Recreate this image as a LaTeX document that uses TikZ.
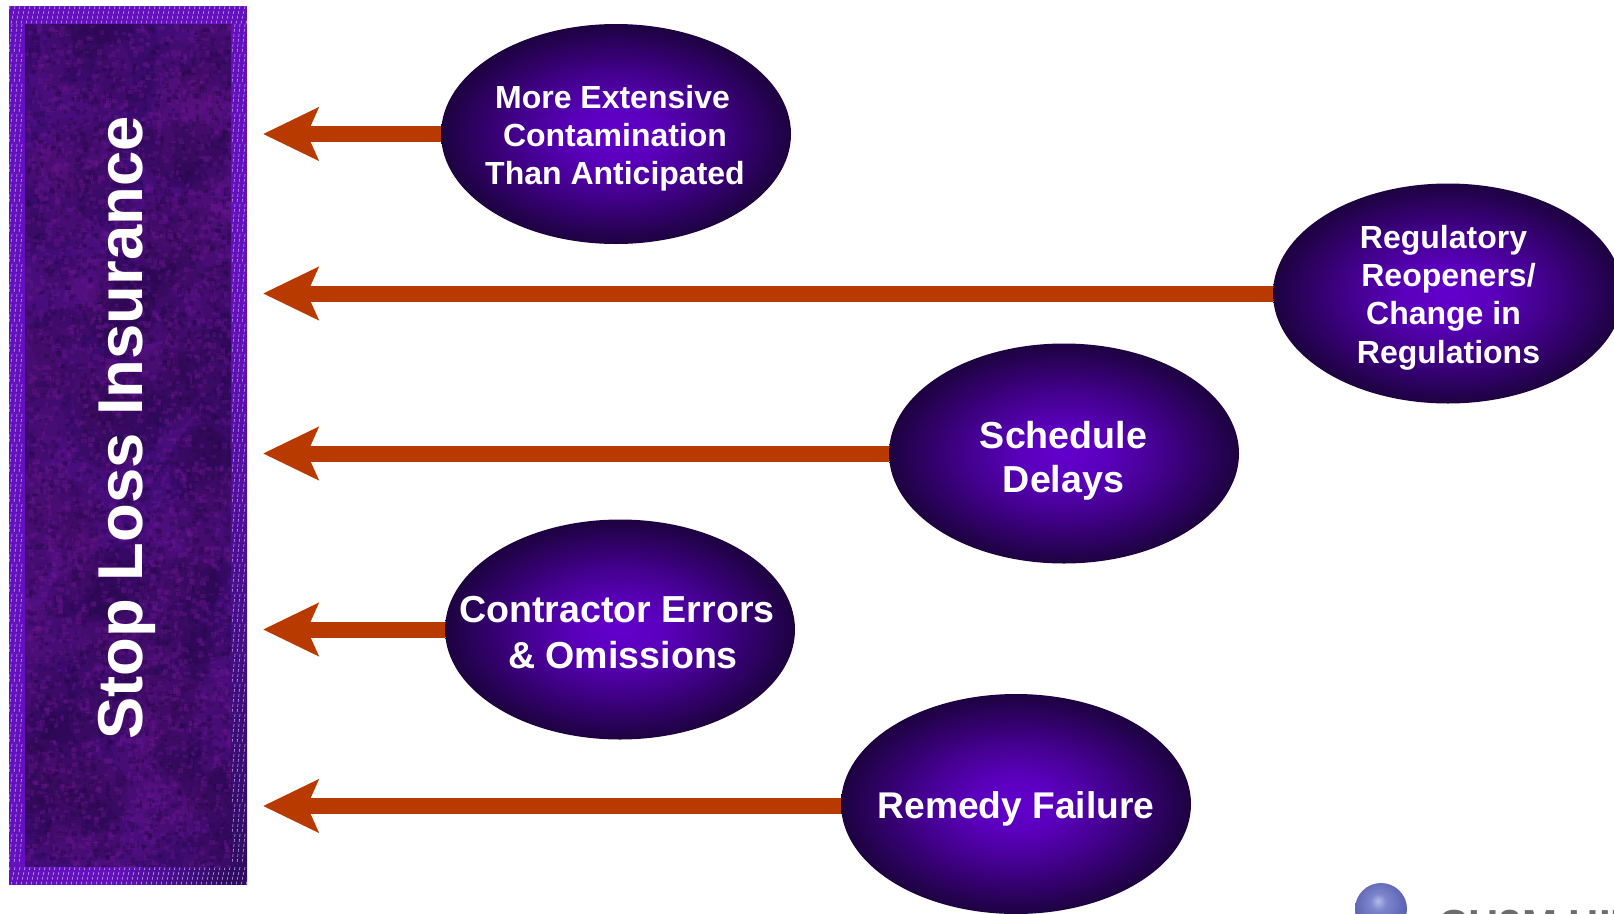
\documentclass[tikz,border=0pt]{standalone}
\usepackage{fontspec}
\setmainfont{Liberation Sans}
\usetikzlibrary{shapes.geometric,arrows.meta}
\definecolor{violetcore}{HTML}{6200CC}
\definecolor{violetedge}{HTML}{1D0240}
\definecolor{arrowred}{HTML}{B93A00}
\definecolor{framepurple}{HTML}{6410BE}
\definecolor{framedark}{HTML}{2E0C5E}
\definecolor{hatchpale}{HTML}{B9A0E6}
\definecolor{matpurple}{HTML}{400C76}
\definecolor{matdark}{HTML}{260848}
\definecolor{matlight}{HTML}{6C1690}
\definecolor{ballcore}{HTML}{B4BAE8}
\definecolor{ballmid}{HTML}{7D85CC}
\definecolor{ballrim}{HTML}{5C64B4}
\pgfdeclareradialshading{glow}{\pgfpoint{0bp}{0bp}}{color(0bp)=(violetcore);color(6bp)=(violetcore!90!violetedge);color(14bp)=(violetcore!55!violetedge);color(25bp)=(violetedge);color(50bp)=(violetedge)}
\pgfdeclareradialshading{sphere}{\pgfpoint{-3bp}{8bp}}{color(0bp)=(ballcore);color(8bp)=(ballmid);color(25bp)=(ballrim);color(50bp)=(ballrim)}
\tikzset{
  oval/.style={ellipse,shading=glow,minimum width=350pt,minimum height=220pt,inner sep=0pt,outer sep=0pt},
  ovaltext/.style={text=white,align=center,inner sep=0pt},
  small/.style={ovaltext,font=\fontsize{32}{38}\bfseries\selectfont},
  large/.style={ovaltext,font=\fontsize{37.6}{45.5}\bfseries\selectfont},
  pointer/.style={draw=arrowred,line width=16pt,shorten >=16pt,-{Stealth[length=55pt,width=52pt,inset=11pt]},arrowred},
  hatch/.style={hatchpale,opacity=.9,line width=.7pt,dash pattern=on 3pt off 2pt}
}
\begin{document}
\begin{tikzpicture}[x=1pt,y=-1pt]
\useasboundingbox (0,0) rectangle (1614,913);
\clip (0,0) rectangle (1614,913);
% frame and mat
\node[rectangle,fill=framepurple,minimum width=238pt,minimum height=879pt,inner sep=0pt,outer sep=0pt] (bar) at (128,445.5) {};
\begin{scope}
\clip (9,6) rectangle (247,884.5);
\shade[top color=framepurple,bottom color=framedark] (231,300) rectangle (248,886);
\shade[left color=framepurple,right color=framedark] (110,867) rectangle (231,886);
\foreach \i in {0,5,...,290}{
  \draw[hatch] (\i,6) -- (\i-4,24);
  \draw[hatch] (\i,867) -- (\i-4,885);
}
\foreach \i in {0,5,10}{
  \foreach \j in {24,54,...,860}{
    \draw[hatch] (12+\i,\j) -- (9+\i,\j+30);
    \draw[hatch] (235+\i,\j) -- (232+\i,\j+30);
  }
}
\end{scope}
\fill[matpurple] (25,24) rectangle (231,867);
\begin{scope}
\clip (25,24) rectangle (231,867);
\pgfmathsetseed{4711}
\foreach \k in {1,...,260}{
  \pgfmathsetmacro{\px}{15+216*rnd}
  \pgfmathsetmacro{\py}{14+853*rnd}
  \pgfmathsetmacro{\pw}{15+30*rnd}
  \pgfmathsetmacro{\ph}{15+30*rnd}
  \pgfmathtruncatemacro{\pick}{rnd<0.6 ? 1 : 0}
  \ifnum\pick=1\relax
    \fill[matdark,opacity=.2] (\px,\py) ellipse ({\pw} and {\ph});
  \else
    \fill[matlight,opacity=.16] (\px,\py) ellipse ({\pw} and {\ph});
  \fi
}
\foreach \k in {1,...,5200}{
  \pgfmathsetmacro{\px}{25+206*rnd}
  \pgfmathsetmacro{\py}{24+843*rnd}
  \pgfmathsetmacro{\pw}{2.5+3.5*rnd}
  \pgfmathsetmacro{\ph}{2.5+3.5*rnd}
  \pgfmathtruncatemacro{\pick}{rnd<0.5 ? 1 : 0}
  \ifnum\pick=1\relax
    \fill[matdark,opacity=.34] (\px,\py) rectangle (\px+\pw,\py+\ph);
  \else
    \fill[matlight,opacity=.34] (\px,\py) rectangle (\px+\pw,\py+\ph);
  \fi
}
\end{scope}
\node[rotate=90,anchor=base,text=white,inner sep=0pt,font=\fontsize{63.4}{70}\bfseries\selectfont] (title) at (142,428) {Stop Loss Insurance};
% ovals
\node[oval] (e1) at (616,134) {};
\node[oval] (e2) at (1448,293.5) {};
\node[oval] (e3) at (1064,453.5) {};
\node[oval] (e4) at (620,629.5) {};
\node[oval] (e5) at (1016,804) {};
\node[small] (t1) at (615,138) {More Extensive\hspace*{5pt}\\Contamination\\Than Anticipated};
\node[small] (t2) at (1448.5,298) {Regulatory\hspace*{10pt}\\Reopeners/\\Change in\hspace*{10pt}\hspace*{10pt}\\[1.5pt]Regulations};
\node[large] (t3) at (1063.5,461) {Schedule\\[-1.5pt]Delays};
\node[large] (t4) at (617,632.5) {Contractor Errors\\\hspace*{12pt}\&\ Omissions};
\node[large,font=\fontsize{37.2}{44}\bfseries\selectfont] (t5) at (1016,809) {Remedy Failure};
% arrows
\draw[pointer] (e1.west) -- (bar.east |- e1.west);
\draw[pointer] (e2.west) -- (bar.east |- e2.west);
\draw[pointer] (e3.west) -- (bar.east |- e3.west);
\draw[pointer] (e4.west) -- (bar.east |- e4.west);
\draw[pointer] ([yshift=-2pt]e5.west) -- ([yshift=-2pt]bar.east |- e5.west);
% logo
\shade[shading=sphere] (1381,909) circle (26);
\node[anchor=base west,inner sep=0pt,text=gray!85!black,font=\fontsize{42}{46}\bfseries\selectfont] (logo) at (1438,939) {CH2M HILL};
\end{tikzpicture}
\end{document}
